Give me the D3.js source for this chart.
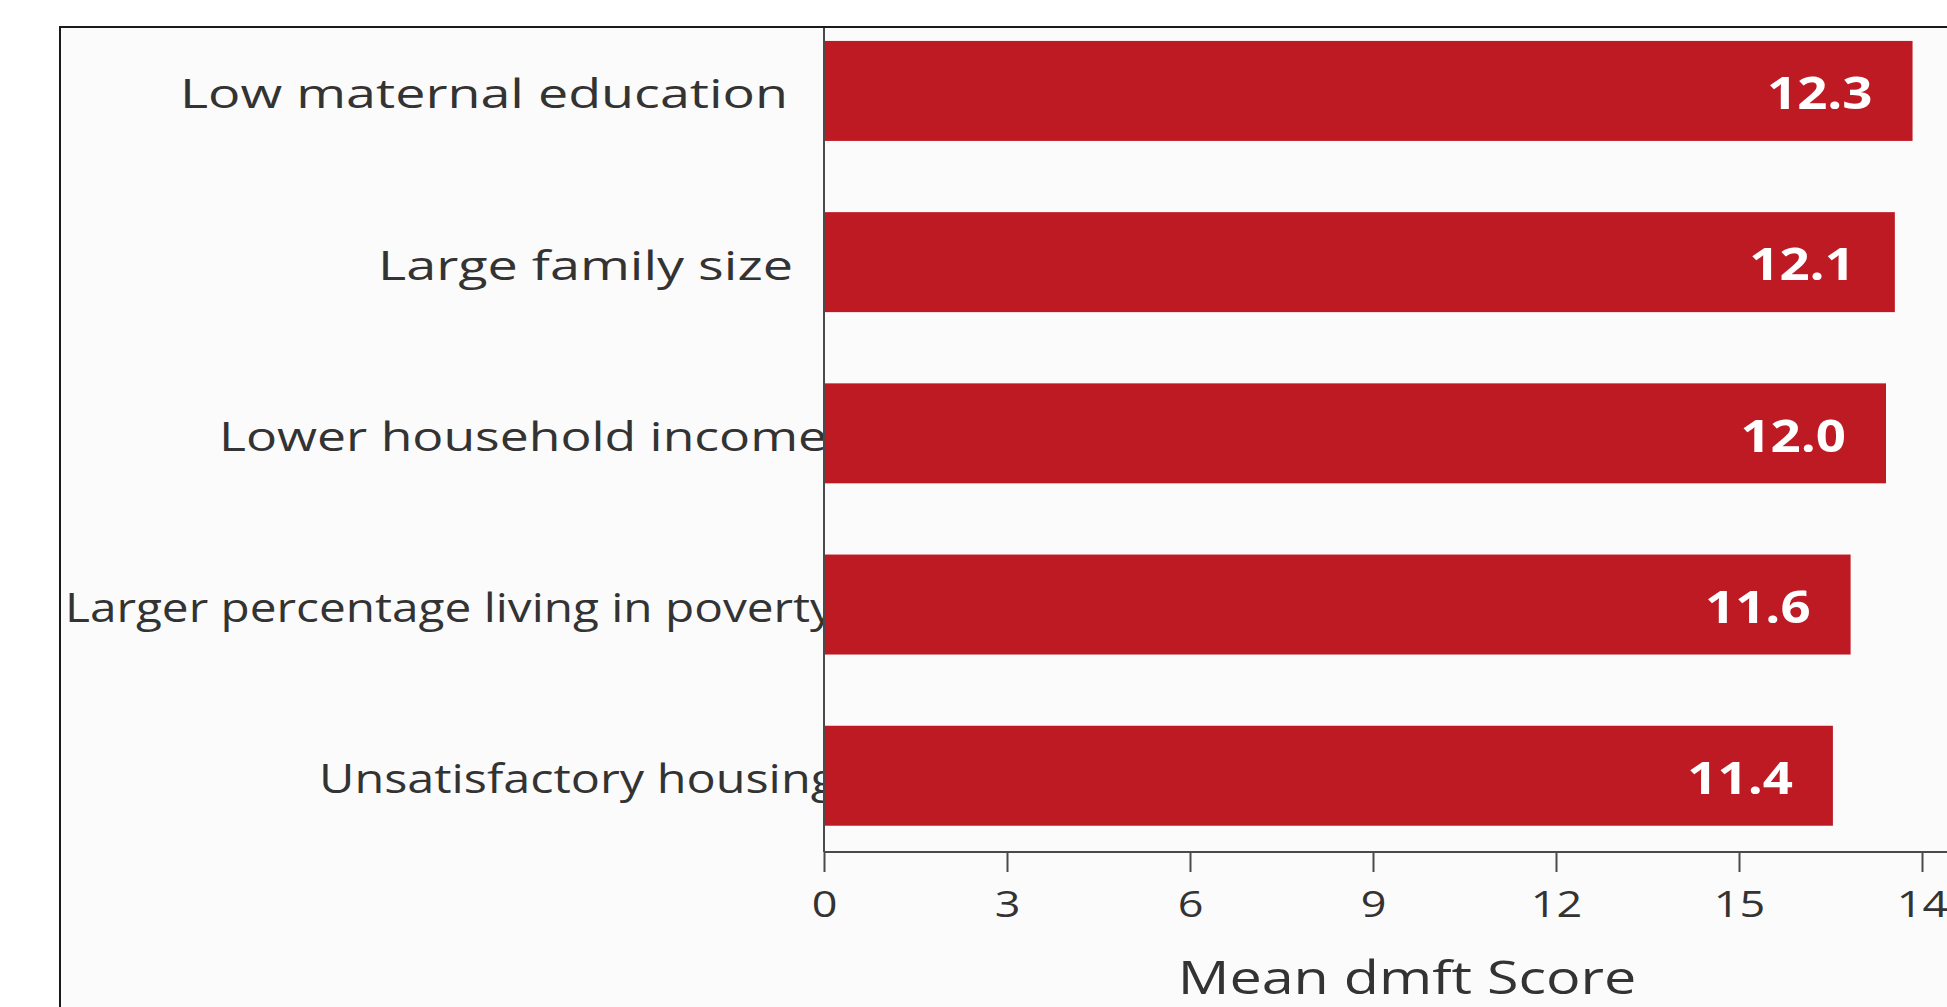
<!DOCTYPE html>
<html>
<head>
<meta charset="utf-8">
<script src="https://cdn.jsdelivr.net/npm/d3@7"></script>
<style>
  html, body { margin: 0; padding: 0; background: #ffffff; }
  svg { display: block; }
  text { font-family: "Open Sans", "Noto Sans", sans-serif; }
</style>
</head>
<body>
<svg id="chart" width="1947" height="1007"></svg>
<script>
// Risk factors and their mean dmft scores
const categories = [
  "Low maternal education",
  "Large family size",
  "Lower household income",
  "Larger percentage living in poverty",
  "Unsatisfactory housing"
];
const meanDmft = [12.3, 12.1, 12.0, 11.6, 11.4];
const valueLabels = ["12.3", "12.1", "12.0", "11.6", "11.4"];

// x-axis ticks
const tickValues = [0, 3, 6, 9, 12, 15, 18];
const tickLabels = ["0", "3", "6", "9", "12", "15", "14"];
const axisTitle = "Mean dmft Score";

// layout
const W = 1947, H = 1007;
const frameLeft = 60, frameTop = 27;
const plotLeft = 824, plotTop = 28, plotBottom = 852;
const labelRight = [788, 793, 827, 834, 837];
const labelWidth = [608, 415, 608, 769, 518];
const textStretch = 1.2;
const barColor = "#be1a24";
const textColor = "#333333";
const axisColor = "#4a4a4a";

const svg = d3.select("#chart");

// panel background and frame
svg.append("rect")
  .attr("x", frameLeft).attr("y", frameTop)
  .attr("width", W - frameLeft).attr("height", H - frameTop)
  .attr("fill", "#fbfbfb");
svg.append("path")
  .attr("d", `M${frameLeft},${H} V${frameTop} H${W}`)
  .attr("fill", "none").attr("stroke", "#1a1a1a").attr("stroke-width", 2);

// scales
const y = d3.scaleBand()
  .domain(categories)
  .range([plotTop, plotBottom])
  .paddingInner(0.416)
  .paddingOuter(0.1145)
  .align(0.33);

const x = d3.scaleLinear().domain([0, 13]).range([plotLeft, plotLeft + 13 * 88.5]);
const xAxisScale = d3.scaleLinear().domain([0, 18]).range([plotLeft, plotLeft + 18 * 61]);

// horizontally stretched text helper
function stretchedText(parent, tx, ty, str, anchor, sx) {
  const g = parent.append("g").attr("transform", `translate(${tx},${ty})`);
  return g.append("text")
    .attr("transform", `scale(${sx},1)`)
    .attr("text-anchor", anchor)
    .attr("dominant-baseline", "central")
    .text(str);
}

// category labels (drawn beneath the bars)
svg.append("g")
  .selectAll("text")
  .data(categories)
  .join("text")
  .attr("x", (c, i) => labelRight[i] - labelWidth[i])
  .attr("y", c => y(c) + y.bandwidth() / 2 + 2)
  .attr("dominant-baseline", "central")
  .attr("textLength", (c, i) => labelWidth[i])
  .attr("lengthAdjust", "spacingAndGlyphs")
  .attr("font-size", 40)
  .attr("fill", textColor)
  .text(c => c);

// bars
svg.append("g")
  .selectAll("rect")
  .data(categories)
  .join("rect")
  .attr("x", x(0))
  .attr("y", c => y(c))
  .attr("width", (c, i) => x(meanDmft[i]) - x(0))
  .attr("height", y.bandwidth())
  .attr("fill", barColor);

// value labels inside bars
const valG = svg.append("g");
categories.forEach((c, i) => {
  stretchedText(valG, x(meanDmft[i]) - 40, y(c) + y.bandwidth() / 2 + 1, valueLabels[i], "end", textStretch)
    .attr("font-size", 44)
    .attr("font-weight", 700)
    .attr("fill", "#ffffff");
});

// y axis line
svg.append("line")
  .attr("x1", plotLeft).attr("x2", plotLeft)
  .attr("y1", plotTop).attr("y2", plotBottom)
  .attr("stroke", axisColor).attr("stroke-width", 2);

// x axis
const xAxis = d3.axisBottom(xAxisScale)
  .tickValues(tickValues)
  .tickSize(20)
  .tickFormat((d, i) => tickLabels[i]);

const axG = svg.append("g")
  .attr("transform", `translate(0,${plotBottom})`)
  .call(xAxis);
axG.select(".domain").remove();
axG.append("line")
  .attr("x1", plotLeft).attr("x2", W)
  .attr("stroke", axisColor).attr("stroke-width", 2);
axG.selectAll(".tick line").attr("stroke", axisColor).attr("stroke-width", 2);
axG.selectAll(".tick text").remove();
axG.selectAll(".tick").each(function (d, i) {
  stretchedText(d3.select(this), 0, 51, tickLabels[i], "middle", 1.25)
    .attr("font-size", 36)
    .attr("fill", textColor);
});

// axis title
stretchedText(svg, 1407, 976, axisTitle, "middle", 1.25)
  .attr("font-size", 46)
  .attr("fill", textColor);
</script>
</body>
</html>
